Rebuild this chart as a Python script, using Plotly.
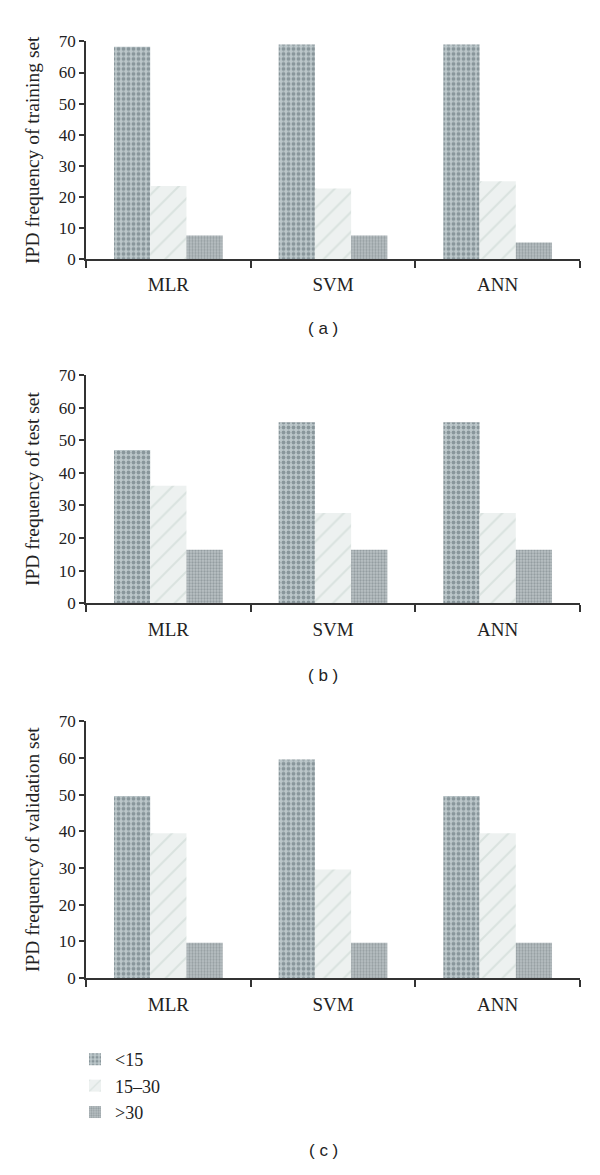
import plotly.graph_objects as go
from plotly.subplots import make_subplots

categories = ["MLR", "SVM", "ANN"]
series_names = ["<15", "15\u201330", ">30"]

training_lt15 = [68.3, 69.0, 69.0]
training_15_30 = [23.5, 22.7, 25.0]
training_gt30 = [7.5, 7.5, 5.3]

test_lt15 = [47.0, 55.5, 55.5]
test_15_30 = [36.0, 27.7, 27.7]
test_gt30 = [16.4, 16.4, 16.4]

validation_lt15 = [49.6, 59.6, 49.6]
validation_15_30 = [39.5, 29.6, 39.5]
validation_gt30 = [9.6, 9.6, 9.6]

panel_titles = ["IPD frequency of training set", "IPD frequency of test set",
                "IPD frequency of validation set"]
panel_captions = ["( a )", "( b )", "( c )"]
y_ticks = [0, 10, 20, 30, 40, 50, 60, 70]

panels = [
    [training_lt15, training_15_30, training_gt30],
    [test_lt15, test_15_30, test_gt30],
    [validation_lt15, validation_15_30, validation_gt30],
]

W, H = 600, 1175
styles = [
    dict(color="#bcc7ca", pattern=dict(shape=".", fgcolor="#56666c", size=5, solidity=0.45)),
    dict(color="#edf1f0", pattern=dict(shape="/", fgcolor="#c6d4cd", size=14, solidity=0.15)),
    dict(color="#b9c1c4", pattern=dict(shape=".", fgcolor="#6f797d", size=3, solidity=0.45)),
]
serif = "Liberation Serif"
ink = "#222222"

fig = make_subplots(rows=3, cols=1)

for r, data in enumerate(panels, start=1):
    for i, vals in enumerate(data):
        fig.add_trace(go.Bar(
            x=categories, y=vals, name=series_names[i], showlegend=(r == 1),
            marker=dict(color=styles[i]["color"], pattern=styles[i]["pattern"],
                        line=dict(width=0)),
        ), row=r, col=1)

# pixel layout (top, bottom) of each plotting area
pix = [(33, 254), (372, 604), (724, 985)]
x0, x1 = 86, 580
for r, (t, b) in enumerate(pix, start=1):
    ysuf = "" if r == 1 else str(r)
    fig.layout["xaxis" + ysuf].update(
        domain=[x0 / W, x1 / W], showline=True, linecolor="#333333", linewidth=1.5,
        ticks="outside", ticklen=7, tickcolor="#333333", tickwidth=1.5,
        tickson="boundaries", ticklabelstandoff=8,
        tickfont=dict(family=serif, size=19, color=ink),
        showgrid=False, zeroline=False)
    fig.layout["yaxis" + ysuf].update(
        domain=[1 - b / H, 1 - t / H], range=[0, 70], tickvals=y_ticks,
        showline=True, linecolor="#333333", linewidth=1.5,
        ticks="outside", ticklen=5, tickcolor="#333333", tickwidth=1.5,
        tickfont=dict(family=serif, size=17, color=ink),
        title=dict(text=panel_titles[r - 1], standoff=14,
                   font=dict(family=serif, size=19.5, color=ink)),
        showgrid=False, zeroline=False)

caption_y = [325, 677, 1160]
for cap, cy in zip(panel_captions, caption_y):
    fig.add_annotation(text=cap, x=323 / W, y=1 - cy / H, xref="paper", yref="paper",
                       showarrow=False, xanchor="center", yanchor="middle",
                       font=dict(family="Liberation Sans", size=17, color=ink))

fig.update_layout(
    width=W, height=H, margin=dict(l=0, r=0, t=0, b=0),
    paper_bgcolor="white", plot_bgcolor="white",
    barmode="group", bargap=0.34, bargroupgap=0,
    legend=dict(x=75 / W, y=1 - 1049 / H, xanchor="left", yanchor="top",
                orientation="v",
                font=dict(family=serif, size=18, color=ink),
                bgcolor="rgba(0,0,0,0)"),
)

fig.write_html("out.html", config={"displayModeBar": False},
               post_script="document.body.style.margin='0';document.body.style.padding='0';")
